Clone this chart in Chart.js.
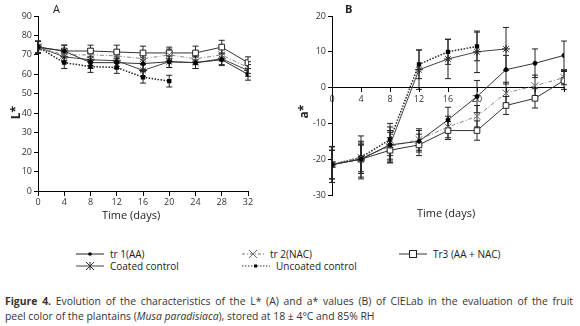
<!DOCTYPE html>
<html>
<head>
<meta charset="utf-8">
<script src="https://cdn.jsdelivr.net/npm/chart.js@4/dist/chart.umd.min.js"></script>
<style>
  body { margin: 0; width: 580px; height: 326px; background: #fff; position: relative; overflow: hidden;
         font-family: "Open Sans", "Noto Sans", sans-serif; color: #222; }
  canvas { position: absolute; top: 0; }
  .lbl { position: absolute; font-size: 11px; white-space: nowrap; }
  .ytitle { position: absolute; font-size: 12px; font-weight: bold; transform: rotate(-90deg); }
  .legend { position: absolute; font-size: 10px; display: flex; align-items: center; white-space: nowrap; }
  .legend svg { margin-right: 6px; }
  .caption { position: absolute; left: 5px; width: 568px; font-size: 10.4px; line-height: 15px; color: #333; white-space: nowrap; }
</style>
</head>
<body>
<div style="position:absolute;left:0;top:0;width:290px;height:230px"><canvas id="chartL"></canvas></div>
<div style="position:absolute;left:290px;top:0;width:290px;height:230px"><canvas id="chartA"></canvas></div>

<div class="lbl" style="left:53px;top:1px">A</div>
<div class="lbl" style="left:345px;top:1px;font-weight:bold">B</div>
<div class="ytitle" style="left:9px;top:104px">L*</div>
<div class="ytitle" style="left:297px;top:103px">a*</div>
<div class="lbl" style="left:102px;top:207px">Time (days)</div>
<div class="lbl" style="left:417px;top:205px">Time (days)</div>

<div class="legend" style="left:76px;top:247px">
  <svg width="28" height="8"><line x1="0" y1="4" x2="28" y2="4" stroke="#222"/><circle cx="14" cy="4" r="1.8" fill="#000"/></svg>tr 1(AA)</div>
<div class="legend" style="left:76px;top:259px">
  <svg width="28" height="10"><line x1="0" y1="5" x2="28" y2="5" stroke="#444"/><path d="M10 1 L18 9 M18 1 L10 9 M14 1 L14 9" stroke="#333"/></svg>Coated control</div>
<div class="legend" style="left:242px;top:247px">
  <svg width="22" height="10"><line x1="0" y1="5" x2="22" y2="5" stroke="#777" stroke-dasharray="3 2 1 2"/><path d="M7 1 L15 9 M15 1 L7 9" stroke="#666"/></svg>tr 2(NAC)</div>
<div class="legend" style="left:242px;top:259px">
  <svg width="28" height="8"><line x1="0" y1="4" x2="28" y2="4" stroke="#333" stroke-dasharray="1.5 1.5"/><rect x="12" y="2.5" width="3" height="3" fill="#000"/></svg>Uncoated control</div>
<div class="legend" style="left:399px;top:247px">
  <svg width="28" height="10"><line x1="0" y1="5" x2="28" y2="5" stroke="#333"/><rect x="10.5" y="1.5" width="7" height="7" fill="#fff" stroke="#222"/></svg>Tr3 (AA + NAC)</div>

<div class="caption" style="top:294px;text-align:justify;text-align-last:justify"><b>Figure 4.</b> Evolution of the characteristics of the L* (A) and a* values (B) of CIELab in the evaluation of the fruit</div>
<div class="caption" style="top:309px">peel color of the plantains (<i>Musa paradisiaca</i>), stored at 18 ± 4°C and 85% RH</div>

<script>
// storage days
const days = [0, 4, 8, 12, 16, 20, 24, 28, 32];

// L* values (A)
const lTr1 = [74, 72, 66, 66, 65.5, 66.5, 66, 67.5, 60];
const lTr2 = [74, 70, 70, 69.5, 68, 70, 68, 70, 63.5];
const lTr3 = [74, 72, 72, 71.5, 71, 71, 71, 74, 66];
const lCoated = [74, 69, 67.5, 67, 62, 66.5, 66, 68, 62];
const lUncoated = [74, 66, 64, 63.5, 58.5, 56.5];
const lTr1Err = [3, 3, 3, 3, 3, 3, 3, 3, 3];
const lTr2Err = [3, 3, 3, 3, 3, 3, 3, 3, 3];
const lTr3Err = [3, 3, 3, 3.5, 3.5, 3, 3.5, 3.5, 3];
const lCoatedErr = [3, 3, 3, 3, 3, 3, 3, 3, 3];
const lUncoatedErr = [3, 3, 3, 3, 3, 3];

// a* values (B)
const aTr1 = [-21.5, -20, -16, -15, -9, -2.5, 5, 6.8, 9];
const aTr2 = [-21.5, -19.5, -16.5, -14.5, -11, -8, -1.5, 0.5, 2.8];
const aTr3 = [-21.5, -20, -17.5, -16, -12, -12, -5, -3, 2];
const aCoated = [-21.5, -20, -16, 5, 8, 10, 10.8];
const aUncoated = [-21.5, -19.5, -14.5, 6.5, 10, 11.5];
const aTr1Err = [5, 4, 4, 3, 3.5, 4.5, 4, 4, 4];
const aTr2Err = [4, 4, 4, 3, 3, 3, 3, 3, 2];
const aTr3Err = [4, 4, 3.5, 3, 2.5, 2.7, 2.5, 2.7, 2.5];
const aCoatedErr = [5, 5, 5, 5.5, 5.5, 5.8, 6];
const aUncoatedErr = [5, 6, 4.5, 4, 3.5, 4];

function pts(values) {
  return values.map((v, i) => ({ x: days[i], y: v }));
}

// draws the +/- error bars of every dataset through its scales
const errorBars = {
  id: "errorBars",
  beforeDatasetsDraw(chart) {
    const ctx = chart.ctx;
    const ys = chart.scales.y;
    chart.data.datasets.forEach((ds, di) => {
      const meta = chart.getDatasetMeta(di);
      ctx.save();
      ctx.strokeStyle = "#222";
      ctx.lineWidth = 1;
      meta.data.forEach((pt, i) => {
        const e = ds.errors[i];
        const v = ds.data[i].y;
        const top = ys.getPixelForValue(v + e);
        const bot = ys.getPixelForValue(v - e);
        ctx.beginPath();
        ctx.moveTo(pt.x, top); ctx.lineTo(pt.x, bot);
        ctx.moveTo(pt.x - 3, top); ctx.lineTo(pt.x + 3, top);
        ctx.moveTo(pt.x - 3, bot); ctx.lineTo(pt.x + 3, bot);
        ctx.stroke();
      });
      ctx.restore();
    });
  },
};

function makeSets(tr1, tr2, tr3, coated, uncoated, errs) {
  return [
    { label: "tr 1(AA)", data: pts(tr1), errors: errs[0], borderColor: "#333", borderWidth: 1,
      pointStyle: "circle", pointRadius: 2, pointBackgroundColor: "#000", pointBorderColor: "#000" },
    { label: "tr 2(NAC)", data: pts(tr2), errors: errs[1], borderColor: "#888", borderWidth: 1, borderDash: [4, 2, 1, 2],
      pointStyle: "crossRot", pointRadius: 5, pointBorderColor: "#666", pointBorderWidth: 1 },
    { label: "Coated control", data: pts(coated), errors: errs[3], borderColor: "#444", borderWidth: 1,
      pointStyle: "star", pointRadius: 4, pointBorderColor: "#222", pointBorderWidth: 1 },
    { label: "Uncoated control", data: pts(uncoated), errors: errs[4], borderColor: "#222", borderWidth: 1.5, borderDash: [1.5, 1.5],
      pointStyle: "rect", pointRadius: 2, pointBackgroundColor: "#000", pointBorderColor: "#000" },
    { label: "Tr3 (AA + NAC)", data: pts(tr3), errors: errs[2], borderColor: "#333", borderWidth: 1,
      pointStyle: "rect", pointRadius: 4, pointBackgroundColor: "#fff", pointBorderColor: "#222", pointBorderWidth: 1 },
  ];
}

function makeOptions(yMin, yMax, yWidth, padRight, padBottom, maxLabel) {
  return {
    responsive: false,
    animation: false,
    layout: { padding: { top: 16, right: padRight, bottom: padBottom, left: 0 } },
    plugins: { legend: { display: false }, tooltip: { enabled: false } },
    elements: { line: { tension: 0, fill: false } },
    scales: {
      x: {
        type: "linear", min: 0, max: 32, position: { y: yMin < 0 ? 0 : yMin },
        grid: { display: true, drawOnChartArea: false, drawTicks: true, tickLength: 4, color: "#000" },
        border: { display: true, color: "#000", width: 1 },
        ticks: { stepSize: 4, color: "#333", font: { size: 9, family: "Open Sans" }, padding: 2,
                 maxRotation: 0, callback: (v) => (v <= maxLabel ? v : "") },
      },
      y: {
        min: yMin, max: yMax, position: "left",
        afterFit: (s) => { s.width = yWidth; },
        grid: { display: true, drawOnChartArea: false, drawTicks: true, tickLength: 4, color: "#000" },
        border: { display: true, color: "#000", width: 1 },
        ticks: { stepSize: 10, color: "#333", font: { size: 9, family: "Open Sans" }, padding: 2 },
      },
    },
  };
}

const canvasL = document.getElementById("chartL");
canvasL.width = 290; canvasL.height = 230;
new Chart(canvasL, {
  type: "line",
  data: { datasets: makeSets(lTr1, lTr2, lTr3, lCoated, lUncoated,
    [lTr1Err, lTr2Err, lTr3Err, lCoatedErr, lUncoatedErr]) },
  options: makeOptions(0, 90, 38, 42, 39, 32),
  plugins: [errorBars],
});

const canvasA = document.getElementById("chartA");
canvasA.width = 290; canvasA.height = 230;
new Chart(canvasA, {
  type: "line",
  data: { datasets: makeSets(aTr1, aTr2, aTr3, aCoated, aUncoated,
    [aTr1Err, aTr2Err, aTr3Err, aCoatedErr, aUncoatedErr]) },
  options: makeOptions(-30, 20, 42, 16, 35, 20),
  plugins: [errorBars],
});
</script>
</body>
</html>
